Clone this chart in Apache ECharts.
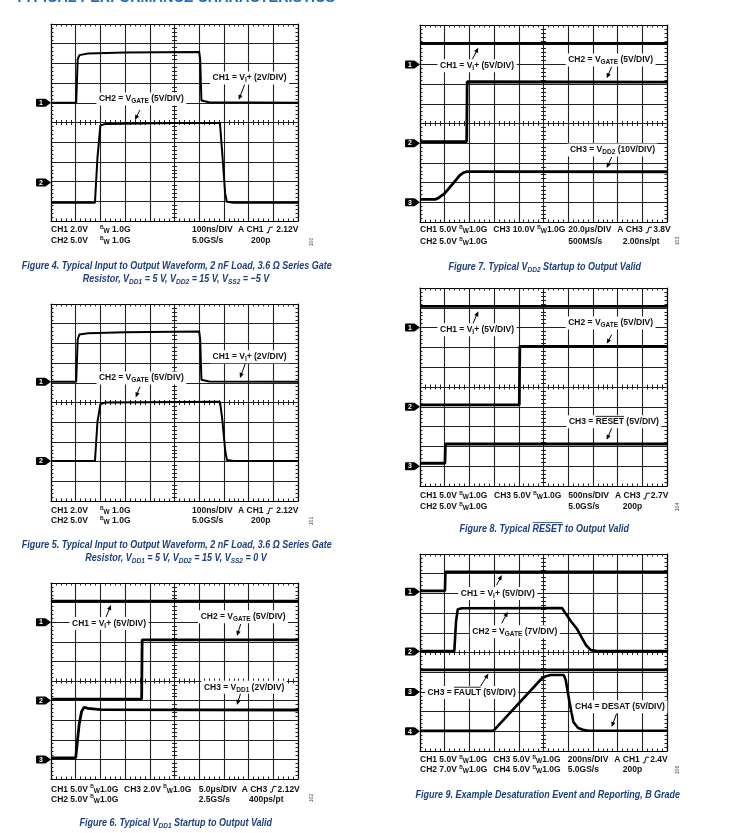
<!DOCTYPE html>
<html><head><meta charset="utf-8">
<script src="https://cdn.jsdelivr.net/npm/echarts@6/dist/echarts.min.js"></script>
<style>html,body{margin:0;padding:0;background:#fff;}#c{width:731px;height:833px;}</style>
</head><body><div id="c"></div>
<script>
// ================= DATA (oscilloscope traces, in graticule divisions: x 0..10, y 0..10 from bottom) =================
const fig4Ch1 = [[0,6.0],[1.02,6.0],[1.08,8.2],[1.15,8.42],[1.5,8.5],[3,8.55],[6.0,8.58],[6.04,8.2],[6.09,6.12],[6.4,6.03],[10,6.0]];
const fig4Ch2 = [[0,0.93],[1.78,0.93],[1.88,3.2],[2.0,4.85],[2.2,4.93],[5,4.97],[6.84,4.97],[6.93,3.5],[7.05,1.4],[7.12,0.98],[7.4,0.93],[10,0.93]];
const fig5Ch1 = [[0,6.05],[1.02,6.05],[1.08,8.2],[1.15,8.45],[1.5,8.52],[3,8.56],[6.0,8.6],[6.04,8.2],[6.09,6.15],[6.4,6.07],[10,6.05]];
const fig5Ch2 = [[0,2.03],[1.78,2.03],[1.88,4.0],[2.0,4.92],[2.2,5.0],[6.84,5.04],[6.93,4.2],[7.05,2.6],[7.12,2.08],[7.4,2.03],[10,2.03]];
const fig6Ch1 = [[0,9.08],[10,9.08]];
const fig6Ch2 = [[0,4.08],[3.67,4.08],[3.69,7.1],[10,7.1]];
const fig6Ch3 = [[0,1.08],[1.0,1.08],[1.06,1.8],[1.14,2.8],[1.24,3.45],[1.34,3.66],[1.5,3.6],[2,3.54],[10,3.52]];
const fig7Ch1 = [[0,9.07],[10,9.07]];
const fig7Ch2 = [[0,4.08],[1.89,4.08],[1.91,7.12],[10,7.1]];
const fig7Ch3 = [[0,1.15],[0.62,1.15],[0.75,1.22],[1.0,1.45],[1.35,1.97],[1.6,2.35],[1.75,2.5],[1.9,2.56],[2.2,2.56],[10,2.55]];
const fig8Ch1 = [[0,9.07],[10,9.07]];
const fig8Ch2 = [[0,4.1],[4.02,4.1],[4.04,7.05],[10,7.05]];
const fig8Ch3 = [[0,1.15],[1.01,1.15],[1.03,2.12],[10,2.12]];
const fig9Ch1 = [[0,8.13],[1.01,8.13],[1.03,9.1],[10,9.1]];
const fig9Ch2 = [[0,5.07],[1.39,5.07],[1.46,6.6],[1.53,7.2],[1.7,7.25],[5.75,7.26],[5.91,6.95],[6.11,6.59],[6.36,6.19],[6.56,5.73],[6.72,5.37],[6.92,5.12],[7.17,5.07],[10,5.07]];
const fig9Ch3 = [[0,4.12],[10,4.12]];
const fig9Ch4 = [[0,1.02],[2.97,1.02],[4.93,3.68],[5.1,3.8],[5.3,3.86],[5.82,3.86],[5.9,3.6],[6.05,2.5],[6.21,1.47],[6.4,1.17],[6.6,1.08],[6.8,1.03],[10,1.03]];

// channel reference levels (divisions), channel 1..n
const fig4Markers = [6.0, 1.95];
const fig5Markers = [6.05, 2.03];
const fig6Markers = [8.0, 4.0, 1.0];
const fig7Markers = [8.0, 4.0, 1.0];
const fig8Markers = [8.0, 4.0, 1.0];
const fig9Markers = [8.08, 5.05, 3.0, 1.0];

// annotation texts (_{} subscript, ^{} superscript, ~{} overline, # trigger edge symbol)
const fig4Labels = ['CH1 = V_{I}+ (2V/DIV)', 'CH2 = V_{GATE} (5V/DIV)'];
const fig5Labels = ['CH1 = V_{I}+ (2V/DIV)', 'CH2 = V_{GATE} (5V/DIV)'];
const fig6Labels = ['CH1 = V_{I}+ (5V/DIV)', 'CH2 = V_{GATE} (5V/DIV)', 'CH3 = V_{DD1} (2V/DIV)'];
const fig7Labels = ['CH1 = V_{I}+ (5V/DIV)', 'CH2 = V_{GATE} (5V/DIV)', 'CH3 = V_{DD2} (10V/DIV)'];
const fig8Labels = ['CH1 = V_{I}+ (5V/DIV)', 'CH2 = V_{GATE} (5V/DIV)', 'CH3 = ~{RESET} (5V/DIV)'];
const fig9Labels = ['CH1 = V_{I}+ (5V/DIV)', 'CH2 = V_{GATE} (7V/DIV)', 'CH3 = ~{FAULT} (5V/DIV)', 'CH4 = DESAT (5V/DIV)'];

const fig4Info = [['CH1 2.0V','^{B}_{W} 1.0G','100ns/DIV','A CH1 # 2.12V'],['CH2 5.0V','^{B}_{W} 1.0G','5.0GS/s','200p']];
const fig5Info = [['CH1 2.0V','^{B}_{W} 1.0G','100ns/DIV','A CH1 # 2.12V'],['CH2 5.0V','^{B}_{W} 1.0G','5.0GS/s','200p']];
const fig6Info = [['CH1 5.0V ^{B}_{W}1.0G','CH3 2.0V ^{B}_{W}1.0G','5.0\u03bcs/DIV','A CH3 #2.12V'],['CH2 5.0V ^{B}_{W}1.0G','2.5GS/s','400ps/pt']];
const fig7Info = [['CH1 5.0V ^{B}_{W}1.0G','CH3 10.0V ^{B}_{W}1.0G','20.0\u03bcs/DIV','A CH3 #3.8V'],['CH2 5.0V ^{B}_{W}1.0G','500MS/s','2.00ns/pt']];
const fig8Info = [['CH1 5.0V ^{B}_{W}1.0G','CH3 5.0V ^{B}_{W}1.0G','500ns/DIV','A CH3 #2.7V'],['CH2 5.0V ^{B}_{W}1.0G','5.0GS/s','200p']];
const fig9Info = [['CH1 5.0V ^{B}_{W}1.0G','CH3 5.0V ^{B}_{W}1.0G','200ns/DIV','A CH1 #2.4V'],['CH2 7.0V ^{B}_{W}1.0G','CH4 5.0V ^{B}_{W}1.0G','5.0GS/s','200p']];

const fig4Caption = ['Figure 4. Typical Input to Output Waveform, 2 nF Load, 3.6 \u03a9 Series Gate','Resistor, V_{DD1} = 5 V, V_{DD2} = 15 V, V_{SS2} = \u22125 V'];
const fig5Caption = ['Figure 5. Typical Input to Output Waveform, 2 nF Load, 3.6 \u03a9 Series Gate','Resistor, V_{DD1} = 5 V, V_{DD2} = 15 V, V_{SS2} = 0 V'];
const fig6Caption = ['Figure 6. Typical V_{DD1} Startup to Output Valid'];
const fig7Caption = ['Figure 7. Typical V_{DD2} Startup to Output Valid'];
const fig8Caption = ['Figure 8. Typical ~{RESET} to Output Valid'];
const fig9Caption = ['Figure 9. Example Desaturation Event and Reporting, B Grade'];
const figCodes = ['100','101','102','103','104','106'];
const pageTitle = 'TYPICAL PERFORMANCE CHARACTERISTICS';

// ================= LAYOUT =================
const panelLayout = [
  {left:51, top:24, width:247, height:197},
  {left:51, top:304, width:247, height:197},
  {left:51, top:583, width:247, height:196},
  {left:420, top:25, width:247, height:197},
  {left:420, top:288, width:247, height:198},
  {left:420, top:554, width:247, height:197}
];
const figs = [
  {traces:[fig4Ch1,fig4Ch2], markers:fig4Markers, labels:fig4Labels, info:fig4Info, cap:fig4Caption},
  {traces:[fig5Ch1,fig5Ch2], markers:fig5Markers, labels:fig5Labels, info:fig5Info, cap:fig5Caption},
  {traces:[fig6Ch1,fig6Ch2,fig6Ch3], markers:fig6Markers, labels:fig6Labels, info:fig6Info, cap:fig6Caption},
  {traces:[fig7Ch1,fig7Ch2,fig7Ch3], markers:fig7Markers, labels:fig7Labels, info:fig7Info, cap:fig7Caption},
  {traces:[fig8Ch1,fig8Ch2,fig8Ch3], markers:fig8Markers, labels:fig8Labels, info:fig8Info, cap:fig8Caption},
  {traces:[fig9Ch1,fig9Ch2,fig9Ch3,fig9Ch4], markers:fig9Markers, labels:fig9Labels, info:fig9Info, cap:fig9Caption}
];
const traceWidth = [2,2,2.8,2.8,2.8,2.6];
const notePlace = [
  [{x:6.54,y:7.26,a:[7.85,6.95,7.6,6.15]},{x:1.94,y:6.19,a:[3.6,5.63,3.4,5.13]}],
  [{x:6.54,y:7.32,a:[7.88,7.02,7.65,6.25]},{x:1.94,y:6.24,a:[3.6,5.8,3.43,5.26]}],
  [{x:0.85,y:7.94,a:[2.23,8.27,2.43,8.88]},{x:6.06,y:8.28,a:[7.68,7.91,7.53,7.3]},{x:6.19,y:4.68,a:[7.68,4.39,7.53,3.78]}],
  [{x:0.81,y:7.93,a:[2.12,8.26,2.36,8.85]},{x:6.0,y:8.22,a:[7.76,7.88,7.56,7.3]},{x:6.07,y:3.65,a:[7.76,3.3,7.56,2.74]}],
  [{x:0.81,y:7.89,a:[2.12,8.14,2.36,8.82]},{x:6.0,y:8.23,a:[7.76,7.64,7.56,7.18]},{x:6.03,y:3.25,a:[7.76,2.92,7.56,2.33]}],
  [{x:1.65,y:8.0,a:[3.1,8.42,3.31,8.93]},{x:2.12,y:6.05,a:[3.31,6.48,3.55,7.07]},{x:0.3,y:2.97,a:[2.43,3.25,2.77,3.93]},{x:6.28,y:2.24,a:[7.96,1.9,7.76,1.22]}]
];
const infoPlace = [
  {rows:[230,241], xs:[[51,100,192,238],[51,100,192,251]]},
  {rows:[511,521], xs:[[51,100,192,238],[51,100,192,251]]},
  {rows:[789.3,799.3], xs:[[51,124,198.7,241.7],[51,198.7,249]]},
  {rows:[230,241.7], xs:[[420,493.3,568.3,617.3],[420,568.3,622.7]]},
  {rows:[496,506.7], xs:[[420,494,568.3,615],[420,568.3,622.7]]},
  {rows:[760,770], xs:[[420,493.3,567.7,614.3],[420,493.3,567.7,622.7]]}
];
const captionPlace = [[[176.7,266],[176,279]],[[176.7,545],[176,558]],[[175.8,823]],[[544.7,266.7]],[[544.3,529.3]],[[547.8,795]]];
const codePlace = [[312,242],[312,521],[312,798],[678,241],[678,507],[678,770]];

const FAM = '"Liberation Sans", Arial, sans-serif';
const labelFont = {family:FAM, size:8.5, weight:'bold', style:'normal', color:'#111', subSize:6.5, subDy:2.5, supSize:5, supDy:-2};
const infoFont  = {family:FAM, size:8.5, weight:'bold', style:'normal', color:'#111', subSize:6.5, subDy:1.5, supSize:5, supDy:-2.5};
const capFont   = {family:FAM, size:11, weight:'bold', style:'italic', color:'#1d3f7c', subSize:8, subDy:3, supSize:7, supDy:-3};
const titleFont = {family:FAM, size:14, weight:'bold', style:'normal', color:'#1f6bbf', subSize:10, subDy:3, supSize:10, supDy:-3};

// ================= HELPERS =================
const mctx = document.createElement('canvas').getContext('2d');
function fontStr(f,size){ return f.style+' '+f.weight+' '+size+'px '+f.family; }
function parseParts(str){
  const re=/_\{([^}]*)\}|\^\{([^}]*)\}|~\{([^}]*)\}|#/g; const parts=[]; let last=0,m;
  while((m=re.exec(str))){
    if(m.index>last) parts.push({t:str.slice(last,m.index)});
    if(m[1]!==undefined) parts.push({t:m[1],kind:'sub'});
    else if(m[2]!==undefined) parts.push({t:m[2],kind:'sup'});
    else if(m[3]!==undefined) parts.push({t:m[3],kind:'over'});
    else parts.push({kind:'edge'});
    last=re.lastIndex;
  }
  if(last<str.length) parts.push({t:str.slice(last)});
  return parts;
}
function layoutText(str,f){
  const els=[]; let x=0;
  parseParts(str).forEach(p=>{
    if(p.kind==='edge'){
      const h=f.size*0.33;
      els.push({type:'polyline', shape:{points:[[x+0.5,h],[x+2.5,h],[x+3.8,-h],[x+7,-h]]}, style:{stroke:f.color,lineWidth:1,fill:null}});
      x+=8; return;
    }
    let size=f.size, dy=0;
    if(p.kind==='sub'){size=f.subSize;dy=f.subDy;}
    if(p.kind==='sup'){size=f.supSize;dy=f.supDy;}
    const font=fontStr(f,size); mctx.font=font; const w=mctx.measureText(p.t).width;
    els.push({type:'text', x:x, y:dy, style:{text:p.t, font:font, fill:f.color, align:'left', verticalAlign:'middle', textAlign:'left', textVerticalAlign:'middle'}});
    if(p.kind==='over'){ const oy=-f.size*0.62; els.push({type:'line', shape:{x1:x,y1:oy,x2:x+w,y2:oy}, style:{stroke:f.color,lineWidth:0.9}}); }
    x+=w;
  });
  return {els,width:x};
}
function zify(els,z){ els.forEach(e=>{e.z=z; e.silent=true; if(e.children) zify(e.children,z);}); return els; }

// ================= CHART =================
function axisX(i,pos,offset,line,split,inside){
  return {type:'value', gridIndex:i, position:pos, offset:offset, min:0, max:10, interval:1,
    axisLine:{show:line,onZero:false,lineStyle:{color:'#000',width:1.2}},
    axisTick:{show:false,inside:inside}, minorTick:{show:true,splitNumber:5,length:2.5,lineStyle:{color:'#222',width:1}},
    axisLabel:{show:false}, splitLine:{show:split,lineStyle:{color:'#222',width:1.1}}, minorSplitLine:{show:false},
    axisPointer:{show:false}, silent:true};
}
const grids=[], xAxes=[], yAxes=[], series=[], firstSeries=[];
panelLayout.forEach((g,i)=>{
  grids.push({left:g.left, top:g.top, width:g.width, height:g.height, show:false, containLabel:false});
  const xb=xAxes.length;
  xAxes.push(axisX(i,'bottom',0,true,true,true));
  xAxes.push(axisX(i,'top',0,true,false,true));
  xAxes.push(axisX(i,'bottom',-g.height/2,false,false,true));
  xAxes.push(axisX(i,'bottom',-g.height/2,false,false,false));
  const yb=yAxes.length;
  yAxes.push(axisX(i,'left',0,true,true,true));
  yAxes.push(axisX(i,'right',0,true,false,true));
  yAxes.push(axisX(i,'left',-g.width/2,false,false,true));
  yAxes.push(axisX(i,'left',-g.width/2,false,false,false));
  firstSeries[i]=series.length;
  figs[i].traces.forEach(d=>series.push({type:'line', xAxisIndex:xb, yAxisIndex:yb, data:d, showSymbol:false, symbol:'none',
    lineStyle:{color:'#000',width:traceWidth[i]}, silent:true, animation:false, z:3}));
});

const chart = echarts.init(document.getElementById('c'), null, {renderer:'canvas', width:731, height:833});
chart.setOption({backgroundColor:'#fff', animation:false, grid:grids, xAxis:xAxes, yAxis:yAxes, series:series});

function place(i,x,y){ return chart.convertToPixel({seriesIndex:firstSeries[i]},[x,y]); }
const G=[];
// title (cut off at top)
(function(){ const L=layoutText(pageTitle,titleFont); G.push(...zify([{type:'group', x:15, y:-1.8, scaleX:320/L.width, children:L.els}],80)); })();

const capScale = 310/layoutText(fig4Caption[0],capFont).width;

figs.forEach((f,i)=>{
  // channel markers
  f.markers.forEach((lv,k)=>{
    const [px,py]=place(i,0,lv);
    G.push(...zify([{type:'group', x:px, y:py, children:[
      {type:'rect', shape:{x:-15,y:-4,width:10,height:8,r:1}, style:{fill:'#000'}},
      {type:'polygon', shape:{points:[[-5.5,-4],[0,0],[-5.5,4]]}, style:{fill:'#000'}},
      {type:'text', x:-10, y:0.3, style:{text:String(k+1), font:'bold 7px '+FAM, fill:'#fff', align:'center', verticalAlign:'middle', textAlign:'center', textVerticalAlign:'middle'}}
    ]}],80));
  });
  // annotation labels & arrows
  f.labels.forEach((txt,k)=>{
    const p=notePlace[i][k];
    const [x1,y1]=place(i,p.a[0],p.a[1]); const [x2,y2]=place(i,p.a[2],p.a[3]);
    const dx=x2-x1, dy=y2-y1, len=Math.hypot(dx,dy), ux=dx/len, uy=dy/len;
    const hl=5, hw=2.2;
    G.push(...zify([
      {type:'line', shape:{x1:x1,y1:y1,x2:x2-ux*4,y2:y2-uy*4}, style:{stroke:'#000',lineWidth:1}},
      {type:'polygon', shape:{points:[[x2,y2],[x2-ux*hl-uy*hw,y2-uy*hl+ux*hw],[x2-ux*hl+uy*hw,y2-uy*hl-ux*hw]]}, style:{fill:'#000'}}
    ],60));
    const [px,py]=place(i,p.x,p.y);
    const L=layoutText(txt,labelFont);
    G.push(...zify([{type:'group', x:px, y:py, children:[{type:'rect', shape:{x:-2.5,y:-6.5,width:L.width+5,height:13}, style:{fill:'#fff'}}].concat(L.els)}],70));
  });
  // scope readout text
  const ip=infoPlace[i];
  f.info.forEach((row,r)=>{
    row.forEach((s,c)=>{
      const L=layoutText(s,infoFont);
      G.push(...zify([{type:'group', x:ip.xs[r][c], y:ip.rows[r], children:L.els}],80));
    });
  });
  // figure code
  G.push(...zify([{type:'text', x:codePlace[i][0], y:codePlace[i][1], rotation:Math.PI/2, style:{text:figCodes[i], font:'5px '+FAM, fill:'#444', align:'center', verticalAlign:'middle', textAlign:'center', textVerticalAlign:'middle'}}],80));
  // captions
  f.cap.forEach((line,r)=>{
    const L=layoutText(line,capFont); const [cx,cy]=captionPlace[i][r];
    G.push(...zify([{type:'group', x:cx-L.width*capScale/2, y:cy, scaleX:capScale, children:L.els}],80));
  });
});
chart.setOption({graphic:{elements:G}});
</script>
</body></html>
